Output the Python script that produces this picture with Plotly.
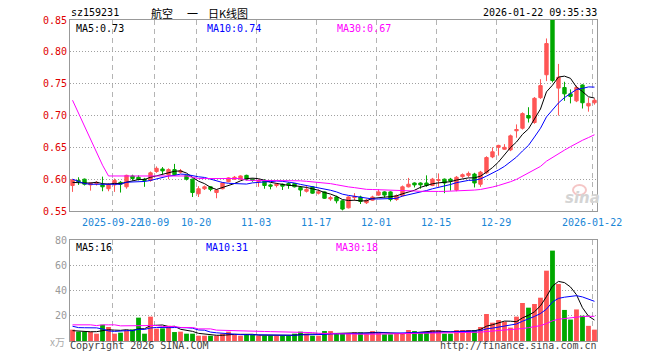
import plotly.graph_objects as go
import pandas as pd

# ---------------- data ----------------
tick_idx = [7, 14, 21, 31, 41, 51, 61, 71, 87]
tick_labels = ["2025-09-22", "10-09", "10-20", "11-03", "11-17", "12-01", "12-15", "12-29", "2026-01-22"]

open_ = [0.590, 0.598, 0.600, 0.591, 0.593, 0.591, 0.585, 0.591, 0.595, 0.588,
         0.605, 0.603, 0.600, 0.598, 0.612, 0.616, 0.607, 0.615, 0.611, 0.606,
         0.600, 0.577, 0.585, 0.588, 0.579, 0.585, 0.596, 0.600, 0.600, 0.606,
         0.600, 0.596, 0.598, 0.591, 0.590, 0.592, 0.593, 0.593, 0.587, 0.581,
         0.588, 0.578, 0.580, 0.569, 0.572, 0.566, 0.555, 0.571, 0.572, 0.563,
         0.567, 0.575, 0.580, 0.580, 0.568, 0.574, 0.588, 0.594, 0.594, 0.594,
         0.590, 0.598, 0.600, 0.600, 0.583, 0.604, 0.606, 0.608, 0.592, 0.610,
         0.635, 0.650, 0.647, 0.646, 0.676, 0.680, 0.700, 0.689, 0.728, 0.764,
         0.850, 0.743, 0.744, 0.734, 0.723, 0.748, 0.715, 0.720]
high = [0.600, 0.603, 0.601, 0.595, 0.597, 0.604, 0.594, 0.601, 0.597, 0.607,
        0.607, 0.606, 0.602, 0.612, 0.620, 0.619, 0.617, 0.624, 0.616, 0.607,
        0.601, 0.589, 0.590, 0.589, 0.584, 0.595, 0.603, 0.605, 0.606, 0.607,
        0.601, 0.600, 0.600, 0.593, 0.594, 0.593, 0.595, 0.594, 0.588, 0.589,
        0.589, 0.584, 0.581, 0.574, 0.574, 0.567, 0.573, 0.578, 0.574, 0.569,
        0.574, 0.584, 0.581, 0.581, 0.576, 0.590, 0.602, 0.595, 0.595, 0.606,
        0.602, 0.609, 0.601, 0.602, 0.605, 0.609, 0.612, 0.610, 0.613, 0.636,
        0.650, 0.654, 0.655, 0.670, 0.686, 0.705, 0.713, 0.729, 0.757, 0.821,
        0.850, 0.781, 0.753, 0.741, 0.747, 0.749, 0.728, 0.727]
low = [0.580, 0.591, 0.590, 0.582, 0.590, 0.581, 0.581, 0.580, 0.579, 0.585,
       0.598, 0.598, 0.588, 0.596, 0.610, 0.608, 0.600, 0.605, 0.609, 0.598,
       0.572, 0.572, 0.583, 0.581, 0.570, 0.584, 0.595, 0.599, 0.599, 0.598,
       0.596, 0.588, 0.585, 0.584, 0.587, 0.583, 0.585, 0.587, 0.573, 0.579,
       0.577, 0.576, 0.569, 0.566, 0.562, 0.551, 0.554, 0.566, 0.561, 0.561,
       0.566, 0.574, 0.571, 0.565, 0.566, 0.573, 0.587, 0.587, 0.585, 0.588,
       0.589, 0.588, 0.578, 0.582, 0.581, 0.602, 0.603, 0.587, 0.588, 0.608,
       0.633, 0.637, 0.646, 0.644, 0.665, 0.678, 0.689, 0.687, 0.726, 0.754,
       0.752, 0.700, 0.723, 0.719, 0.721, 0.711, 0.706, 0.717]
close = [0.599, 0.596, 0.592, 0.594, 0.595, 0.588, 0.592, 0.598, 0.592, 0.606,
         0.601, 0.600, 0.598, 0.610, 0.617, 0.613, 0.615, 0.607, 0.613, 0.600,
         0.579, 0.585, 0.588, 0.584, 0.583, 0.594, 0.602, 0.603, 0.605, 0.600,
         0.598, 0.598, 0.590, 0.589, 0.592, 0.589, 0.591, 0.588, 0.583, 0.584,
         0.578, 0.580, 0.570, 0.571, 0.566, 0.553, 0.572, 0.573, 0.565, 0.567,
         0.572, 0.580, 0.575, 0.568, 0.574, 0.588, 0.592, 0.591, 0.591, 0.590,
         0.600, 0.599, 0.594, 0.597, 0.603, 0.607, 0.609, 0.594, 0.611, 0.634,
         0.643, 0.653, 0.650, 0.668, 0.678, 0.703, 0.696, 0.727, 0.747, 0.813,
         0.755, 0.760, 0.734, 0.730, 0.744, 0.720, 0.719, 0.724]
volume = [9.0, 7.4, 7.4, 7.4, 5.8, 12.9, 11.1, 5.8, 6.6, 8.4,
          9.2, 18.5, 5.8, 19.3, 9.8, 10.0, 12.1, 7.1, 7.4, 5.8,
          5.8, 4.2, 4.2, 4.2, 4.2, 5.8, 7.4, 4.8, 4.2, 5.3,
          4.8, 4.2, 4.2, 4.2, 4.2, 4.2, 4.2, 5.8, 7.4, 5.8,
          4.2, 4.2, 7.9, 7.9, 5.8, 5.8, 5.8, 6.9, 6.9, 5.8,
          7.9, 6.9, 5.3, 5.3, 5.8, 5.8, 8.7, 7.9, 6.9, 6.9,
          8.7, 8.7, 5.8, 5.8, 8.7, 8.7, 8.7, 8.7, 11.1, 21.4,
          14.5, 16.6, 15.3, 10.6, 19.3, 30.1, 26.4, 29.3, 34.3, 55.7,
          71.6, 45.1, 24.6, 17.0, 25.0, 20.0, 12.0, 9.0]

ma5_head = [0.595, 0.594, 0.594, 0.594]
ma10_head = [0.600, 0.596, 0.593, 0.592, 0.592, 0.592, 0.592, 0.592, 0.592]
ma30_head = [0.724, 0.704, 0.683, 0.663, 0.643, 0.622, 0.605,
             0.605, 0.605, 0.605, 0.605, 0.605, 0.605, 0.605, 0.605, 0.605, 0.605, 0.605, 0.605, 0.605,
             0.603, 0.601, 0.601, 0.601, 0.601, 0.601, 0.601, 0.601, 0.601]
vma5_head = [8.2, 7.8, 7.5, 7.3]
vma10_head = [11.7, 10.6, 10.5, 10.5, 10.4, 9.5, 8.0, 7.6, 7.6]
vma30_head = [12.8, 12.8, 12.8, 12.8, 12.2, 12.8, 12.8, 12.8, 12.0, 12.0,
              12.0, 12.0, 12.0, 12.3, 12.3, 11.5, 11.5, 11.5, 10.7, 10.7,
              10.7, 9.6, 9.6, 9.6, 8.6, 8.4, 8.3, 8.1, 8.0]

legend_price = ["MA5:0.73", "MA10:0.74", "MA30:0.67"]
legend_vol = ["MA5:16", "MA10:31", "MA30:18"]


def moving_avg(vals, n, head):
    s = pd.Series(vals).rolling(n).mean().tolist()
    return list(head) + s[len(head):]


x = list(range(len(close)))
ma5 = moving_avg(close, 5, ma5_head)
ma10 = moving_avg(close, 10, ma10_head)
ma30 = moving_avg(close, 30, ma30_head)
vma5 = moving_avg(volume, 5, vma5_head)
vma10 = moving_avg(volume, 10, vma10_head)
vma30 = moving_avg(volume, 30, vma30_head)

RED = "#ff5555"
GREEN = "#00a800"
MONO = "DejaVu Sans Mono"
CJK = "Noto Sans CJK SC"
GRID = "#b4b4b4"

fig = go.Figure()
fig.add_trace(go.Candlestick(
    x=x, open=open_, high=high, low=low, close=close,
    increasing=dict(line=dict(color=RED, width=1), fillcolor=RED),
    decreasing=dict(line=dict(color=GREEN, width=1), fillcolor=GREEN),
    whiskerwidth=0, hoverinfo="skip", xaxis="x", yaxis="y"))
for vals, col in [(ma5, "#000000"), (ma10, "#0000ff"), (ma30, "#ff00ff")]:
    fig.add_trace(go.Scatter(x=x, y=vals, mode="lines", line=dict(color=col, width=1),
                             hoverinfo="skip", xaxis="x", yaxis="y"))

bar_colors = [RED if c >= o else GREEN for o, c in zip(open_, close)]
fig.add_trace(go.Bar(x=x, y=volume, marker=dict(color=bar_colors, line=dict(width=0)),
                     width=0.8, hoverinfo="skip", xaxis="x2", yaxis="y2"))
for vals, col in [(vma5, "#000000"), (vma10, "#0000ff"), (vma30, "#ff00ff")]:
    fig.add_trace(go.Scatter(x=x, y=vals, mode="lines", line=dict(color=col, width=1),
                             hoverinfo="skip", xaxis="x2", yaxis="y2"))

# page offset (default body margin) and plot-area geometry in page pixels
OFF = 8
FW, FH = 660 - OFF, 360 - OFF
PL, PR, PT, PB = 70, 597, 20, 341


def fx(px):
    return (px - PL) / (PR - PL)


def fy(py):
    return (PB - py) / (PB - PT)


tickpos = [t - 0.4 for t in tick_idx]
xcommon = dict(range=[-0.42, 87.42], tickvals=tickpos, showgrid=True, gridcolor=GRID,
               griddash="5px,4px", gridwidth=1, showline=True, linecolor="#999999",
               linewidth=1, mirror=True, zeroline=False, fixedrange=True)

fig.update_layout(
    width=FW, height=FH,
    margin=dict(l=PL - OFF, r=FW - (PR - OFF), t=PT - OFF, b=FH - (PB - OFF), autoexpand=False),
    paper_bgcolor="white", plot_bgcolor="white",
    showlegend=False, boxgap=0.2, bargap=0.2,
    xaxis=dict(**xcommon, ticktext=tick_labels, anchor="y", domain=[0, 1],
               ticks="outside", ticklen=2, tickcolor="rgba(0,0,0,0)", tickangle=0,
               tickfont=dict(family=MONO, size=10, color="#1a86d6"),
               rangeslider=dict(visible=False)),
    xaxis2=dict(**xcommon, ticktext=[""] * len(tickpos), anchor="y2", domain=[0, 1],
                showticklabels=False, matches="x"),
    yaxis=dict(domain=[fy(211), 1], range=[0.55, 0.85],
               tickvals=[0.55, 0.60, 0.65, 0.70, 0.75, 0.80, 0.85], tickformat=".2f",
               tickfont=dict(family=MONO, size=10, color="#e00000"),
               showgrid=True, gridcolor="#a0a0a0", griddash="1px,2px",
               showline=True, linecolor="#999999", linewidth=1, mirror=True,
               zeroline=False, fixedrange=True, anchor="x"),
    yaxis2=dict(domain=[0, fy(240)], range=[0, 80], tickvals=[20, 40, 60, 80],
                tickfont=dict(family=MONO, size=10, color="#999999"),
                showgrid=True, gridcolor="#a0a0a0", griddash="1px,2px",
                showline=True, linecolor="#999999", linewidth=1, mirror=True,
                zeroline=False, fixedrange=True, anchor="x2"),
)

ann = []


def text(s, px, py, xanchor="left", color="#000000", size=10, family=MONO):
    ann.append(dict(text=s, x=fx(px), y=fy(py), xref="paper", yref="paper",
                    xanchor=xanchor, yanchor="middle", showarrow=False,
                    font=dict(family=family, size=size, color=color)))


text("sz159231", 69, 12)
text("航空", 149, 13, family=CJK, size=11)
text("一", 185, 13, family=CJK, size=11)
text("日K线图", 206, 13, family=CJK, size=11)
text("2026-01-22 09:35:33", 599, 12, xanchor="right")
text(legend_price[0], 74, 28, color="#000000")
text(legend_price[1], 205, 28, color="#0000ff")
text(legend_price[2], 335, 28, color="#ff00ff")
text(legend_vol[0], 74, 247, color="#000000")
text(legend_vol[1], 204, 247, color="#0000ff")
text(legend_vol[2], 334, 247, color="#ff00ff")
text("x万", 67, 341, xanchor="right", color="#aaaaaa", family=CJK, size=10)
text("Copyright 2026 SINA.COM", 68, 346, color="#444444")
text("http://finance.sina.com.cn", 599, 346, xanchor="right", color="#444444")
ann.append(dict(text="<b><i>sina</i></b>", x=fx(582), y=fy(198), xref="paper", yref="paper",
                xanchor="center", yanchor="middle", showarrow=False,
                font=dict(family="DejaVu Sans", size=15, color="#d4d4d4")))
fig.update_layout(annotations=ann)
fig.add_shape(type="circle", xref="paper", yref="paper",
              x0=fx(573), x1=fx(586), y0=fy(195), y1=fy(185),
              line=dict(color="#f5c6c6", width=2))

fig.write_html("out.html", config={"displayModeBar": False})
